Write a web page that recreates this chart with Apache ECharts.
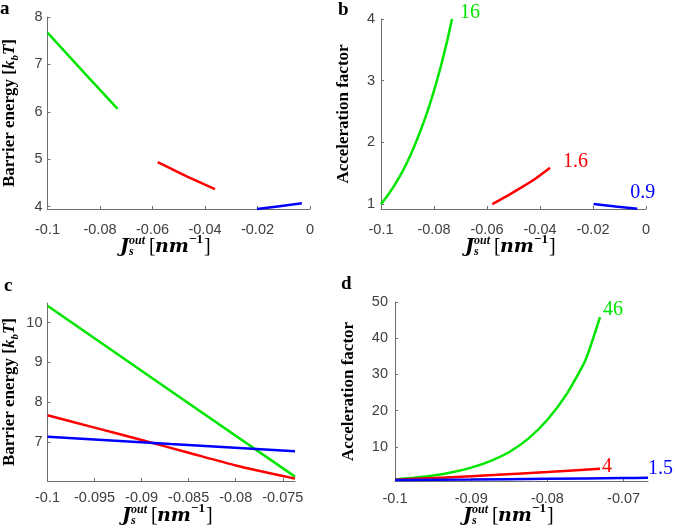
<!DOCTYPE html>
<html>
<head>
<meta charset="utf-8">
<script src="https://cdn.jsdelivr.net/npm/echarts@6/dist/echarts.min.js"></script>
<style>
  html, body { margin: 0; padding: 0; background: #fff; }
  #main { width: 675px; height: 530px; }
</style>
</head>
<body>
<div id="main"></div>
<script>
// panel a : barrier energy
var aGreenX = [-0.1, -0.0866, -0.0733]
var aGreenY = [7.67, 6.86, 6.06]
var aRedX = [-0.058, -0.047, -0.0362]
var aRedY = [4.94, 4.64, 4.37]
var aBlueX = [-0.0202, -0.0116, -0.0031]
var aBlueY = [3.95, 4.01, 4.07]

// panel b : acceleration factor
var bGreenX = [-0.1, -0.0975, -0.095, -0.0925, -0.09, -0.0875, -0.085, -0.0825, -0.08, -0.0775, -0.075, -0.0732]
var bGreenY = [1.0, 1.14, 1.3, 1.48, 1.69, 1.93, 2.2, 2.5, 2.84, 3.22, 3.65, 4.0]
var bRedX = [-0.058, -0.0525, -0.047, -0.0415, -0.0362]
var bRedY = [1.0, 1.13, 1.27, 1.42, 1.59]
var bBlueX = [-0.0198, -0.0115, -0.0033]
var bBlueY = [1.0, 0.96, 0.925]

// panel c : barrier energy (zoom)
var cGreenX = [-0.1, -0.0869, -0.0737]
var cGreenY = [10.42, 8.28, 6.13]
var cRedX = [-0.1, -0.095, -0.09, -0.085, -0.08, -0.0737]
var cRedY = [7.67, 7.36, 7.05, 6.73, 6.41, 6.08]
var cBlueX = [-0.1, -0.0869, -0.0737]
var cBlueY = [7.13, 6.95, 6.77]

// panel d : acceleration factor (zoom)
var dGreenX = [-0.1, -0.0975, -0.095, -0.0925, -0.09, -0.0875, -0.085, -0.0825, -0.08, -0.0775, -0.075, -0.0731]
var dGreenY = [1.0, 1.5, 2.1, 3.0, 4.3, 6.1, 8.6, 12.3, 17.5, 24.5, 34.0, 45.8]
var dRedX = [-0.1, -0.0933, -0.0866, -0.08, -0.0731]
var dRedY = [0.95, 1.6, 2.3, 3.1, 4.0]
var dBlueX = [-0.1, -0.09, -0.08, -0.07, -0.0668]
var dBlueY = [0.85, 1.0, 1.2, 1.42, 1.5]

// tick labels
var aXTicks = [-0.1, -0.08, -0.06, -0.04, -0.02, 0]
var aYTicks = [4, 5, 6, 7, 8]
var bXTicks = [-0.1, -0.08, -0.06, -0.04, -0.02, 0]
var bYTicks = [1, 2, 3, 4]
var cXTicks = [-0.1, -0.095, -0.09, -0.085, -0.08, -0.075]
var cYTicks = [7, 8, 9, 10]
var dXTicks = [-0.1, -0.09, -0.08, -0.07]
var dYTicks = [10, 20, 30, 40, 50]

// end labels
var bLabels = ['16', '1.6', '0.9']
var dLabels = ['46', '4', '1.5']

var GREEN = '#00e600'
var RED = '#ff0000'
var BLUE = '#0000ff'
var axisColor = '#6e6e6e'
var labelColor = '#404040'

function pairs(xs, ys) {
	var out = []
	for (var i = 0; i < xs.length; i++) out.push([xs[i], ys[i]])
	return out
}

function xAx(gi, min, max, ticks, margin) {
	return {
		type: 'value', gridIndex: gi, min: min, max: max,
		axisLine: { show: true, onZero: false, lineStyle: { color: axisColor, width: 1 } },
		axisTick: { show: true, inside: true, length: 3, customValues: ticks, lineStyle: { color: axisColor } },
		axisLabel: {
			customValues: ticks, margin: margin, color: labelColor,
			fontSize: 14.5, fontFamily: 'Liberation Sans',
			formatter: function (v) { return String(v) }
		},
		splitLine: { show: false }
	}
}

var rich = {
	t: { fontFamily: 'Liberation Serif', fontWeight: 'bold', fontSize: 17, color: '#000', lineHeight: 22 },
	i: { fontFamily: 'Liberation Serif', fontWeight: 'bold', fontStyle: 'italic', fontSize: 17, color: '#000', lineHeight: 22 },
	s: { fontFamily: 'Liberation Serif', fontWeight: 'bold', fontStyle: 'italic', fontSize: 11, color: '#000', lineHeight: 22, verticalAlign: 'bottom' }
}

function yAx(gi, min, max, ticks, margin, name, gap) {
	return {
		type: 'value', gridIndex: gi, min: min, max: max,
		name: name, nameLocation: 'middle', nameRotate: 90, nameGap: gap,
		nameTextStyle: { rich: rich },
		axisLine: { show: true, onZero: false, lineStyle: { color: axisColor, width: 1 } },
		axisTick: { show: true, inside: true, length: 3, customValues: ticks, lineStyle: { color: axisColor } },
		axisLabel: {
			customValues: ticks, margin: margin, color: labelColor,
			fontSize: 14.5, fontFamily: 'Liberation Sans',
			formatter: function (v) { return String(v) }
		},
		splitLine: { show: false }
	}
}

function line(gi, xs, ys, color, smooth, label, offset) {
	var s = {
		type: 'line', xAxisIndex: gi, yAxisIndex: gi,
		data: pairs(xs, ys), showSymbol: false, clip: false,
		smooth: smooth ? 0.2 : false,
		lineStyle: { color: color, width: 2.5 },
		itemStyle: { color: color },
		silent: true
	}
	if (label) {
		s.endLabel = {
			show: true, formatter: label, color: color, distance: 0, offset: offset,
			fontFamily: 'Liberation Serif', fontSize: 20
		}
	}
	return s
}

function xTitle(x0, cy) {
	var bi = 'italic bold 19px "DejaVu Serif"'
	var small = 'italic bold 12px "Liberation Serif"'
	var els = [
		{ t: 'J', x: x0, y: cy, f: bi },
		{ t: 'out', x: x0 + 9, y: cy - 6, f: small },
		{ t: 's', x: x0 + 9, y: cy + 5, f: small },
		{ t: '[', x: x0 + 29, y: cy, f: '20px "Liberation Serif"' },
		{ t: 'nm', x: x0 + 35, y: cy, f: bi },
		{ t: '\u22121', x: x0 + 69, y: cy - 7, f: 'bold 13px "Liberation Serif"' },
		{ t: ']', x: x0 + 84, y: cy, f: '20px "Liberation Serif"' }
	]
	return els.map(function (e) {
		return {
			type: 'text', x: e.x, y: e.y, silent: true,
			style: { text: e.t, font: e.f, fill: '#000', align: 'left', verticalAlign: 'middle', textAlign: 'left', textVerticalAlign: 'middle' }
		}
	})
}

function letter(t, x, y) {
	return {
		type: 'text', x: x, y: y, silent: true,
		style: { text: t, font: 'bold 19px "Liberation Serif"', fill: '#000', align: 'left', verticalAlign: 'top', textAlign: 'left', textVerticalAlign: 'top' }
	}
}

var energyName = '{t|Barrier energy [}{i|k}{s|b}{i|T}{t|]}'
var accelName = '{t|Acceleration factor}'

var myChart = echarts.init(document.getElementById('main'), null, { renderer: 'canvas' })
var option = {
	animation: false,
	backgroundColor: '#fff',
	grid: [
		{ left: 38, top: 17, width: 272, height: 192 },
		{ left: 381, top: 19, width: 265, height: 190 },
		{ left: 38, top: 303, width: 257, height: 178 },
		{ left: 395, top: 302, width: 253, height: 179 }
	],
	xAxis: [
		xAx(0, -0.1, 0, aXTicks, 13),
		xAx(1, -0.1, 0, bXTicks, 13),
		xAx(2, -0.1, -0.0737, cXTicks, 9),
		xAx(3, -0.1, -0.0668, dXTicks, 10)
	],
	yAxis: [
		yAx(0, 3.95, 8, aYTicks, 5, energyName, 27),
		yAx(1, 0.92, 4, bYTicks, 6, accelName, 26),
		yAx(2, 6.02, 10.49, cYTicks, 5, energyName, 27),
		yAx(3, 0.6, 50, dYTicks, 7, accelName, 35)
	],
	series: [
		line(0, aGreenX, aGreenY, GREEN, false),
		line(0, aRedX, aRedY, RED, false),
		line(0, aBlueX, aBlueY, BLUE, false),

		line(1, bGreenX, bGreenY, GREEN, true, bLabels[0], [8, -6]),
		line(1, bRedX, bRedY, RED, true, bLabels[1], [13, -6]),
		line(1, bBlueX, bBlueY, BLUE, false, bLabels[2], [-7, -16]),

		line(2, cGreenX, cGreenY, GREEN, false),
		line(2, cRedX, cRedY, RED, true),
		line(2, cBlueX, cBlueY, BLUE, false),

		line(3, dGreenX, dGreenY, GREEN, true, dLabels[0], [3, -7]),
		line(3, dRedX, dRedY, RED, true, dLabels[1], [2, -2]),
		line(3, dBlueX, dBlueY, BLUE, true, dLabels[2], [0, -9])
	],
	graphic: [
		letter('a', 0, 0),
		letter('b', 338, 1),
		letter('c', 4, 277),
		letter('d', 341, 275)
	].concat(xTitle(120, 247), xTitle(465, 247), xTitle(122, 516), xTitle(463, 516))
}
myChart.setOption(option)
</script>
</body>
</html>
